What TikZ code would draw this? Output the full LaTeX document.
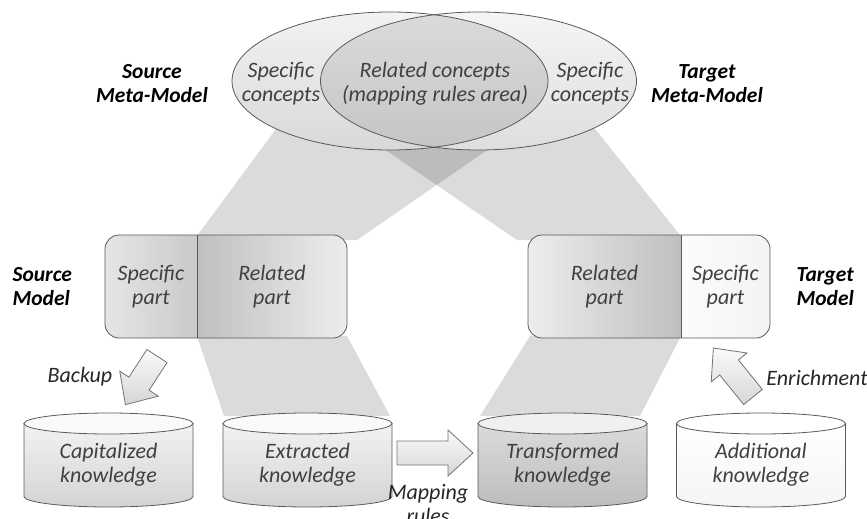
\documentclass[tikz,border=0pt]{standalone}
\usepackage{fontspec}
\setmainfont{Carlito}
\usetikzlibrary{math}

\tikzset{
  band/.style={fill=black, fill opacity=0.14},
  outline/.style={draw=black!65, line width=0.8pt},
  txt/.style={font=\fontsize{22}{24}\selectfont\itshape, text=black!75, align=center},
  lbl/.style={font=\fontsize{21.5}{24}\selectfont\bfseries\itshape, align=center},
  arrowbody/.style={draw=black!55, line width=0.8pt, top color=gray!4, bottom color=gray!32},
  blockarrow/.pic={
    \path[arrowbody] (0,-12) -- (#1-25,-12) -- (#1-25,-23) -- (#1,0) -- (#1-25,23) -- (#1-25,12) -- (0,12) -- cycle;
  }
}

\begin{document}
\begin{tikzpicture}[x=1pt,y=-1pt]
\tikzmath{
\rx=84.5; \ry=10.5; \ct=413; \cb=507;
\ex=158; \ey=69;
}
\useasboundingbox (0,0) rectangle (867,519);

% projection bands
\fill[band] (290,110) -- (545,110) -- (357,240) -- (194,240) -- cycle;
\fill[band] (327,110) -- (580,110) -- (684,240) -- (517,240) -- cycle;
\fill[band] (197,336) -- (347,336) -- (390,416) -- (224,416) -- cycle;
\fill[band] (530,336) -- (681,336) -- (640,416) -- (480,416) -- cycle;

% meta-models
\shade[top color=gray!10, bottom color=gray!30] (390,81) ellipse[x radius=\ex, y radius=\ey];
\shade[top color=gray!8, bottom color=gray!26] (478.5,81) ellipse[x radius=\ex, y radius=\ey];
\begin{scope}
\clip (390,81) ellipse[x radius=\ex, y radius=\ey];
\shade[top color=gray!28, bottom color=gray!46] (478.5,81) ellipse[x radius=\ex, y radius=\ey];
\end{scope}
\draw[outline] (390,81) ellipse[x radius=\ex, y radius=\ey];
\draw[outline] (478.5,81) ellipse[x radius=\ex, y radius=\ey];

\node[txt] (srcspec) at (281,84) {Specific\\concepts};
\node[txt] (relconc) at (435,84) {Related concepts\\(mapping rules area)};
\node[txt] (tgtspec) at (590,84) {Specific\\concepts};
\node[lbl] (srcmeta) at (152,84) {Source\\Meta-Model};
\node[lbl] (tgtmeta) at (707,84) {Target\\Meta-Model};

% models
\begin{scope}
\clip[rounded corners=14] (105,235) rectangle (347,338);
\shade[left color=gray!20, right color=gray!42] (105,235) rectangle (197,338);
\shade[left color=gray!50, right color=gray!14] (197,235) rectangle (347,338);
\end{scope}
\draw[outline, rounded corners=14] (105,235) rectangle (347,338);
\draw[outline] (197,235) -- (197,338);

\begin{scope}
\clip[rounded corners=14] (528,235) rectangle (770,338);
\shade[left color=gray!14, right color=gray!50] (528,235) rectangle (681,338);
\shade[left color=gray!3, right color=gray!9] (681,235) rectangle (770,338);
\end{scope}
\draw[outline, rounded corners=14] (528,235) rectangle (770,338);
\draw[outline] (681,235) -- (681,338);

\node[txt] (srcspecpart) at (151,287) {Specific\\part};
\node[txt] (srcrelpart) at (272,287) {Related\\part};
\node[txt] (tgtrelpart) at (604.5,287) {Related\\part};
\node[txt] (tgtspecpart) at (725.5,287) {Specific\\part};
\node[lbl, anchor=west, align=left] (srcmodel) at (9,287) {Source\\Model};
\node[lbl, anchor=west, align=left] (tgtmodel) at (793,287) {Target\\Model};

% knowledge bases
\foreach \cx/\nm/\ctop/\cbot/\cface/\word in {108.5/capk/gray!10/gray!34/gray!4/Capitalized,
  307.5/extk/gray!10/gray!34/gray!4/Extracted, 562.5/trk/gray!28/gray!52/gray!12/Transformed,
  761/addk/white/gray!8/white/Additional}{
  \shade[outline, top color=\ctop, bottom color=\cbot] (\cx-\rx,\ct+\ry) -- (\cx-\rx,\cb-\ry)
    arc[start angle=180, end angle=0, x radius=\rx, y radius=\ry] -- (\cx+\rx,\ct+\ry) -- cycle;
  \draw[outline, fill=\cface] (\cx,\ct+\ry) ellipse[x radius=\rx, y radius=\ry];
  \node[txt] (\nm) at (\cx,465) {\word\\knowledge};
}

% block arrows
\pic[rotate=237] at (157,356) {blockarrow=58};
\pic[rotate=129] at (753,397) {blockarrow=63};
\pic at (397,453) {blockarrow=76};

\node[txt, text=black!85] (backup) at (80,377) {Backup};
\node[txt, text=black!85] (enrich) at (817,378) {Enrichment};
\node[txt, text=black!85] (maprules) at (428,504) {Mapping\\rules};
\end{tikzpicture}
\end{document}
